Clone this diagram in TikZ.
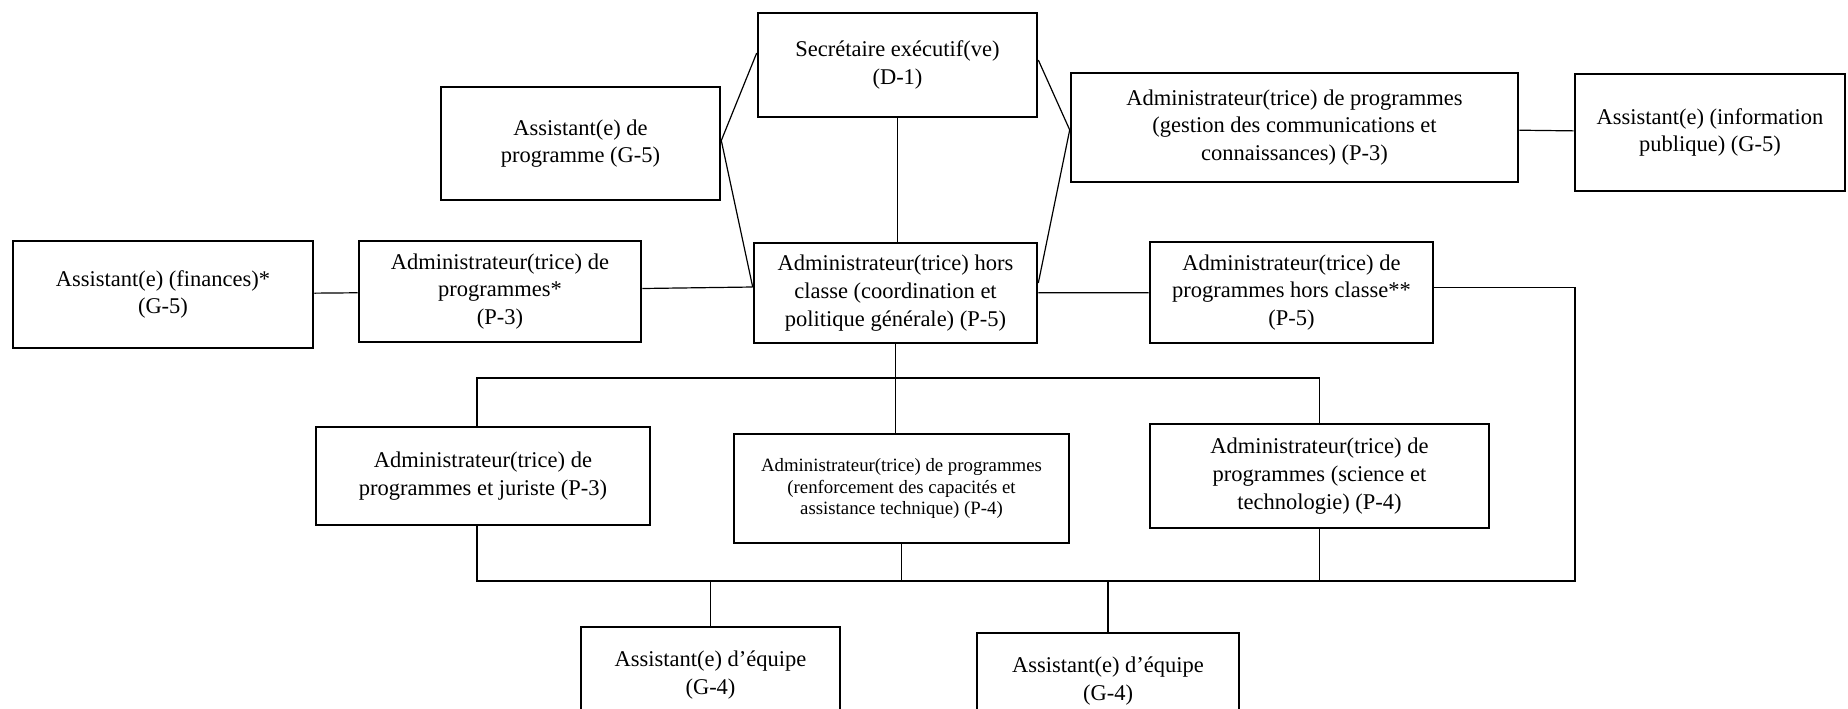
\documentclass[tikz,border=0pt]{standalone}
\usepackage{fontspec}
\setmainfont{Liberation Serif}
\begin{document}
\begin{tikzpicture}[x=0.5pt,y=-0.5pt]
\tikzset{poste/.style={draw, line width=1.3pt, align=center, inner sep=0pt, font=\fontsize{11.25}{13.85}\selectfont},
petit/.style={font=\fontsize{9.4}{10.8}\selectfont},
lien/.style={line width=0.6pt}}
\useasboundingbox (0,0) rectangle (1848,708);
\node[poste, minimum width=139.5pt, minimum height=52pt] (SE) at (897.5,65) {Secrétaire exécutif(ve)\\(D-1)};
\node[poste, minimum width=139.5pt, minimum height=56.5pt] (AP) at (580.5,143.5) {Assistant(e) de\\programme (G-5)};
\node[poste, minimum width=223.5pt, minimum height=54.5pt] (CO) at (1294.5,127.5) {Administrateur(trice) de programmes\\(gestion des communications et\\connaissances) (P-3)};
\node[poste, minimum width=135pt, minimum height=58.5pt] (IP) at (1710,132.5) {Assistant(e) (information\\publique) (G-5)};
\node[poste, minimum width=150pt, minimum height=53.5pt] (FI) at (163,294.5) {Assistant(e) (finances)*\\(G-5)};
\node[poste, minimum width=141pt, minimum height=50.5pt] (PE) at (500,291.5) {Administrateur(trice) de\\programmes*\\(P-3)};
\node[poste, minimum width=141.5pt, minimum height=50pt] (HC) at (895.5,293) {Administrateur(trice) hors\\classe (coordination et\\politique générale) (P-5)};
\node[poste, minimum width=141.5pt, minimum height=50.5pt] (HC2) at (1291.5,292.5) {Administrateur(trice) de\\programmes hors classe**\\(P-5)};
\node[poste, minimum width=167pt, minimum height=49pt] (JU) at (483,476) {Administrateur(trice) de\\programmes et juriste (P-3)};
\node[poste, petit, minimum width=167.5pt, minimum height=54.5pt] (RC) at (901.5,488.5) {Administrateur(trice) de programmes\\(renforcement des capacités et\\assistance technique) (P-4)};
\node[poste, minimum width=169.5pt, minimum height=52pt] (ST) at (1319.5,476) {Administrateur(trice) de\\programmes (science et\\technologie) (P-4)};
\node[poste, minimum width=129.5pt, minimum height=48pt] (EQ1) at (710.5,675) {Assistant(e) d’équipe\\(G-4)};
\node[poste, minimum width=131pt, minimum height=48pt] (EQ2) at (1108,681) {Assistant(e) d’équipe\\(G-4)};
\coordinate (haut) at (0,378);
\coordinate (coin) at (1575,581);
\coordinate (JUh) at ([xshift=-3pt]JU.north);
\coordinate (JUb) at ([xshift=-3pt]JU.south);
% liens vers le haut
\draw[lien] ([yshift=6pt]SE.west) -- ([yshift=1.5pt]AP.east) -- ([yshift=3pt]HC.west);
\draw[lien] ([yshift=2.5pt]SE.east) -- ([yshift=-1.2pt]CO.west) -- ([yshift=5pt]HC.east);
\draw[lien] (SE.south) -- (SE.south |- HC.north);
\draw[lien] (CO) -- (IP);
\draw[lien] (FI) -- (PE);
\draw[lien] ([yshift=1.5pt]PE.east) -- ([yshift=3pt]HC.west);
\draw[lien] (HC) -- (HC2);
% liens vers le bas
\draw[lien] (HC.south) -- (HC.south |- RC.north);
\draw[lien] (JUh) |- (haut -| ST.north) -- (ST.north);
\draw[lien] ([yshift=2.7pt]HC2.east) -| (coin) -- (coin -| JUb) -- (JUb);
\draw[lien] (RC.south) -- (RC.south |- coin);
\draw[lien] (ST.south) -- (ST.south |- coin);
\draw[lien] (EQ1.north) -- (EQ1.north |- coin);
\draw[lien] (EQ2.north) -- (EQ2.north |- coin);
\end{tikzpicture}
\end{document}
